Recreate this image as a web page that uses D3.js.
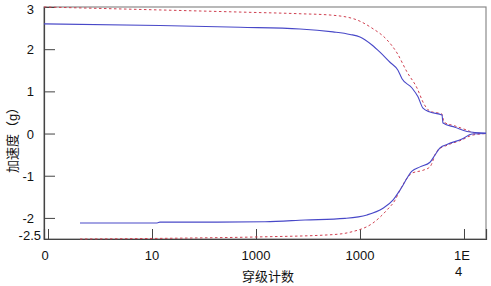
<!DOCTYPE html>
<html><head><meta charset="utf-8">
<script src="https://cdn.jsdelivr.net/npm/d3@7"></script>
<style>
body{margin:0;background:#fff;}
text{font-family:"Liberation Sans",Arial,"Noto Sans CJK SC",sans-serif;}
</style></head>
<body><svg id="c" width="491" height="286"></svg>
<script>
// crossing counts (log axis) and acceleration levels (g)
const upperBlueX = [0.915, 11.9, 70.2, 265, 550, 801, 1000, 1304, 1556, 1942, 2318, 2535, 3162, 3612, 4037, 4710, 6143, 6279, 8190, 10690, 16280];
const upperBlueY = [2.60, 2.56, 2.52, 2.48, 2.41, 2.35, 2.29, 2.10, 1.93, 1.69, 1.50, 1.30, 1.08, 0.87, 0.60, 0.51, 0.44, 0.25, 0.15, 0.05, 0.01];
const upperRedX  = [0.915, 11.9, 70.2, 265, 515, 895, 1304, 1820, 2270, 2832, 3533, 4125, 4710, 6143, 6425, 8190, 10690, 12770, 16280];
const upperRedY  = [3.00, 2.93, 2.88, 2.84, 2.81, 2.71, 2.50, 2.22, 1.91, 1.46, 1.08, 0.70, 0.53, 0.46, 0.27, 0.18, 0.08, 0.01, 0.00];
const lowerBlueX = [2.03, 11.2, 11.9, 42.2, 122, 296, 717, 1168, 1664, 2074, 2425, 3162, 3777, 4710, 5261, 5878, 7017, 9570, 11940, 16280];
const lowerBlueY = [-2.12, -2.12, -2.10, -2.10, -2.09, -2.05, -2.01, -1.93, -1.77, -1.58, -1.34, -0.89, -0.79, -0.68, -0.51, -0.34, -0.25, -0.13, -0.01, 0.00];
const lowerRedX  = [2.03, 18.6, 109, 515, 801, 1334, 1820, 2172, 2425, 3162, 4037, 4710, 5500, 7017, 9570, 11940, 16280];
const lowerRedY  = [-2.50, -2.48, -2.45, -2.40, -2.34, -2.12, -1.81, -1.58, -1.34, -0.94, -0.87, -0.79, -0.41, -0.27, -0.15, -0.04, 0.00];
const xTickVals  = [1, 10, 100, 1000, 10000];
const xTickLabels = ["0", "10", "1000", "1000", "1E4"];
const yTickVals  = [3, 2, 1, 0, -1, -2, -2.5];
const yTickLabels = ["3", "2", "1", "0", "-1", "-2", "-2.5"];
const xTitle = "穿级计数";
const yTitle = "加速度（g）";

const svg = d3.select("#c");
const L = 44, R = 486, T = 7, B = 239;
const x = d3.scaleLog().domain([0.915, 16280]).range([L, R]);
const y = d3.scaleLinear().domain([-2.5, 3]).range([B, T]);

// frame
svg.append("rect").attr("x", L).attr("y", T).attr("width", R - L).attr("height", B - T)
  .attr("fill", "none").attr("stroke", "#8a8a8a").attr("stroke-width", 1.2);

// x ticks (inward)
const xAxis = svg.append("g").attr("transform", `translate(0,${B})`)
  .call(d3.axisBottom(x).tickValues(xTickVals).tickSize(-10).tickFormat(() => ""));
xAxis.select(".domain").attr("stroke", "#444").attr("stroke-width", 1.2);
xAxis.selectAll(".tick line").attr("stroke", "#444");
xAxis.selectAll(".tick text").remove();
xTickVals.forEach((v, i) => {
  const lab = xTickLabels[i];
  if (lab === "1E4") {
    const t = svg.append("text").attr("x", x(v) - 10).attr("y", 260).attr("font-size", 13).attr("fill", "#111");
    t.append("tspan").attr("x", x(v) - 10).text("1E");
    t.append("tspan").attr("x", x(v) - 9).attr("dy", 16).text("4");
  } else {
    svg.append("text").attr("x", x(v) - (i === 0 ? 3 : 0)).attr("y", 260).attr("text-anchor", "middle")
      .attr("font-size", 13).attr("fill", "#111").text(lab);
  }
});

// y ticks (inward)
const yAxis = svg.append("g").attr("transform", `translate(${L},0)`)
  .call(d3.axisLeft(y).tickValues(yTickVals.filter(v => v !== 3 && v !== -2.5)).tickSize(-11).tickFormat(() => ""));
yAxis.select(".domain").attr("stroke", "#444").attr("stroke-width", 1.2);
yAxis.selectAll(".tick line").attr("stroke", "#444");
yAxis.selectAll(".tick text").remove();
yTickVals.forEach((v, i) => {
  let yy = y(v) + 5, xx = 34;
  if (v === 3) yy = y(v) + 7;
  if (v === -2.5) { yy = y(v) + 1; xx = 41; }
  svg.append("text").attr("x", xx).attr("y", yy).attr("text-anchor", "end")
    .attr("font-size", 13).attr("fill", "#111").text(yTickLabels[i]);
});

// lines
const line = d3.line().x(d => x(d[0])).y(d => y(d[1])).curve(d3.curveMonotoneX);
function draw(xs, ys, color, dash, w) {
  svg.append("path").datum(xs.map((v, i) => [v, ys[i]]))
    .attr("d", line).attr("fill", "none").attr("stroke", color)
    .attr("stroke-width", w).attr("stroke-dasharray", dash);
}
draw(upperRedX, upperRedY, "#d04050", "2.5,2.5", 1);
draw(lowerRedX, lowerRedY, "#d04050", "2.5,2.5", 1);
draw(upperBlueX, upperBlueY, "#4848c8", null, 1.1);
draw(lowerBlueX, lowerBlueY, "#4848c8", null, 1.1);

// titles
svg.append("text").attr("x", 268).attr("y", 281).attr("text-anchor", "middle")
  .attr("font-size", 13).attr("fill", "#111").text(xTitle);
svg.append("text").attr("transform", "translate(17,137) rotate(-90)").attr("text-anchor", "middle")
  .attr("font-size", 13).attr("fill", "#111").text(yTitle);
</script></body></html>
